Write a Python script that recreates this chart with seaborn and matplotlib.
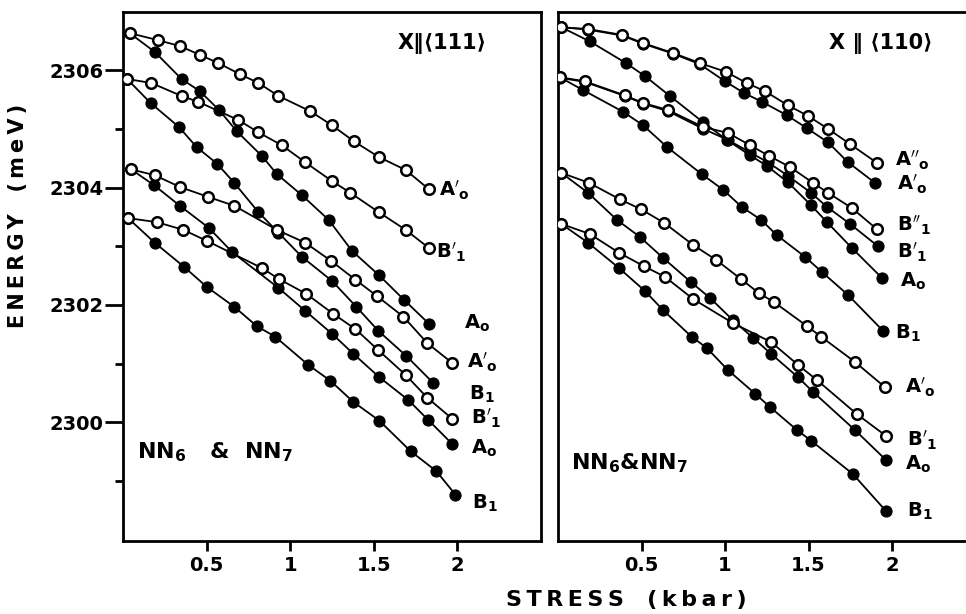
import pandas as pd
import matplotlib
matplotlib.use("Agg")
import matplotlib.pyplot as plt
import seaborn as sns

# Exciton line energies vs uniaxial stress.
# stress in kbar, energy in meV

# ---- X || <111> panel ----
l_ap_up_x = [0.04, 0.21, 0.34, 0.46, 0.57, 0.70, 0.81, 0.93, 1.12, 1.25, 1.38, 1.53, 1.69, 1.83]
l_ap_up_e = [2306.63, 2306.51, 2306.41, 2306.26, 2306.12, 2305.93, 2305.78, 2305.56, 2305.30, 2305.06, 2304.79, 2304.52, 2304.30, 2303.97]
l_ao_up_x = [0.04, 0.19, 0.35, 0.46, 0.575, 0.68, 0.83, 0.92, 1.07, 1.23, 1.37, 1.53, 1.68, 1.83]
l_ao_up_e = [2306.63, 2306.31, 2305.85, 2305.64, 2305.32, 2304.96, 2304.54, 2304.23, 2303.87, 2303.45, 2302.92, 2302.51, 2302.09, 2301.68]
l_bp_up_x = [0.024, 0.17, 0.35, 0.45, 0.69, 0.81, 0.95, 1.09, 1.25, 1.36, 1.53, 1.69, 1.83]
l_bp_up_e = [2305.85, 2305.78, 2305.56, 2305.46, 2305.15, 2304.94, 2304.72, 2304.43, 2304.11, 2303.91, 2303.58, 2303.28, 2302.97]
l_b1_up_x = [0.024, 0.165, 0.335, 0.44, 0.565, 0.665, 0.81, 0.93, 1.07, 1.25, 1.395, 1.527, 1.695, 1.856]
l_b1_up_e = [2305.85, 2305.44, 2305.03, 2304.69, 2304.40, 2304.08, 2303.58, 2303.23, 2302.82, 2302.41, 2301.97, 2301.56, 2301.13, 2300.67]
l_ap_lo_x = [0.048, 0.19, 0.34, 0.51, 0.665, 0.92, 1.09, 1.245, 1.39, 1.52, 1.677, 1.82, 1.97]
l_ap_lo_e = [2304.31, 2304.21, 2304.01, 2303.84, 2303.69, 2303.28, 2303.06, 2302.75, 2302.43, 2302.15, 2301.80, 2301.35, 2301.01]
l_ao_lo_x = [0.048, 0.186, 0.34, 0.515, 0.653, 0.93, 1.09, 1.25, 1.377, 1.533, 1.707, 1.826, 1.97]
l_ao_lo_e = [2304.31, 2304.04, 2303.69, 2303.31, 2302.90, 2302.29, 2301.90, 2301.51, 2301.17, 2300.77, 2300.38, 2300.04, 2299.63]
l_bp_lo_x = [0.03, 0.204, 0.36, 0.503, 0.83, 0.934, 1.096, 1.257, 1.39, 1.527, 1.69, 1.82, 1.97]
l_bp_lo_e = [2303.48, 2303.41, 2303.28, 2303.09, 2302.63, 2302.44, 2302.19, 2301.85, 2301.59, 2301.23, 2300.81, 2300.42, 2300.06]
l_b1_lo_x = [0.03, 0.19, 0.365, 0.50, 0.665, 0.80, 0.91, 1.108, 1.24, 1.377, 1.533, 1.72, 1.874, 1.988]
l_b1_lo_e = [2303.48, 2303.06, 2302.65, 2302.31, 2301.97, 2301.64, 2301.46, 2300.98, 2300.71, 2300.35, 2300.03, 2299.51, 2299.17, 2298.77]

# ---- X || <110> panel ----
r_app_x = [0.02, 0.18, 0.383, 0.51, 0.69, 0.85, 1.006, 1.13, 1.24, 1.377, 1.497, 1.617, 1.749, 1.91]
r_app_e = [2306.73, 2306.70, 2306.60, 2306.46, 2306.29, 2306.12, 2305.97, 2305.78, 2305.64, 2305.40, 2305.22, 2305.00, 2304.74, 2304.42]
r_ap_x = [0.02, 0.18, 0.383, 0.51, 0.69, 0.85, 1.0, 1.114, 1.222, 1.371, 1.491, 1.617, 1.737, 1.898]
r_ap_e = [2306.73, 2306.69, 2306.59, 2306.45, 2306.28, 2306.10, 2305.81, 2305.61, 2305.46, 2305.23, 2305.01, 2304.77, 2304.43, 2304.08]
r_ao_x = [0.02, 0.19, 0.407, 0.52, 0.67, 0.87, 1.012, 1.15, 1.25, 1.377, 1.515, 1.611, 1.76, 1.94]
r_ao_e = [2306.73, 2306.49, 2306.12, 2305.90, 2305.56, 2305.11, 2304.81, 2304.55, 2304.37, 2304.09, 2303.70, 2303.41, 2302.97, 2302.46]
r_bpp_x = [0.01, 0.16, 0.40, 0.51, 0.66, 0.87, 1.018, 1.15, 1.263, 1.389, 1.527, 1.617, 1.76, 1.91]
r_bpp_e = [2305.88, 2305.81, 2305.57, 2305.44, 2305.32, 2305.03, 2304.93, 2304.72, 2304.54, 2304.35, 2304.08, 2303.91, 2303.65, 2303.29]
r_bp_x = [0.01, 0.16, 0.40, 0.51, 0.66, 0.87, 1.018, 1.15, 1.257, 1.377, 1.515, 1.611, 1.749, 1.916]
r_bp_e = [2305.87, 2305.80, 2305.56, 2305.43, 2305.30, 2305.00, 2304.81, 2304.60, 2304.43, 2304.20, 2303.91, 2303.67, 2303.38, 2303.00]
r_b1_x = [0.01, 0.15, 0.39, 0.51, 0.653, 0.86, 0.99, 1.10, 1.216, 1.31, 1.479, 1.581, 1.737, 1.946]
r_b1_e = [2305.88, 2305.66, 2305.29, 2305.06, 2304.69, 2304.23, 2303.96, 2303.67, 2303.45, 2303.19, 2302.82, 2302.56, 2302.17, 2301.56]
r_ap_lo_x = [0.02, 0.186, 0.37, 0.497, 0.635, 0.81, 0.946, 1.096, 1.204, 1.293, 1.491, 1.575, 1.778, 1.958]
r_ap_lo_e = [2304.25, 2304.08, 2303.80, 2303.63, 2303.40, 2303.02, 2302.77, 2302.44, 2302.20, 2302.05, 2301.64, 2301.46, 2301.03, 2300.60]
r_ao_lo_x = [0.02, 0.18, 0.353, 0.49, 0.63, 0.796, 0.91, 1.048, 1.168, 1.275, 1.437, 1.527, 1.778, 1.964]
r_ao_lo_e = [2304.25, 2303.91, 2303.45, 2303.16, 2302.80, 2302.39, 2302.12, 2301.74, 2301.44, 2301.17, 2300.77, 2300.52, 2299.87, 2299.36]
r_bp_lo_x = [0.02, 0.19, 0.365, 0.515, 0.64, 0.81, 1.048, 1.275, 1.437, 1.551, 1.79, 1.964]
r_bp_lo_e = [2303.38, 2303.21, 2302.89, 2302.66, 2302.48, 2302.10, 2301.69, 2301.37, 2300.98, 2300.72, 2300.14, 2299.77]
r_b1_lo_x = [0.02, 0.18, 0.365, 0.52, 0.63, 0.80, 0.89, 1.018, 1.18, 1.27, 1.431, 1.515, 1.766, 1.964]
r_b1_lo_e = [2303.38, 2303.06, 2302.63, 2302.24, 2301.91, 2301.46, 2301.27, 2300.89, 2300.49, 2300.26, 2299.87, 2299.69, 2299.12, 2298.49]

# line names written at the end of each curve
l_label_text = [r"$A'_o$", r"$B'_1$", r"$A_o$", r"$A'_o$", r"$B_1$", r"$B'_1$", r"$A_o$", r"$B_1$"]
l_label_x = [1.89, 1.87, 2.04, 2.06, 2.07, 2.08, 2.08, 2.09]
l_label_y = [2303.96, 2302.90, 2301.69, 2301.03, 2300.48, 2300.07, 2299.56, 2298.62]
r_label_text = [r"$A''_o$", r"$A'_o$", r"$B''_1$", r"$B'_1$", r"$A_o$", r"$B_1$", r"$A'_o$", r"$B'_1$", r"$A_o$", r"$B_1$"]
r_label_x = [2.02, 2.03, 2.03, 2.03, 2.05, 2.02, 2.08, 2.09, 2.08, 2.09]
r_label_y = [2304.46, 2304.06, 2303.36, 2302.90, 2302.41, 2301.51, 2300.60, 2299.69, 2299.29, 2298.48]

series = [
    ("left", "ap_up", False, l_ap_up_x, l_ap_up_e),
    ("left", "ao_up", True, l_ao_up_x, l_ao_up_e),
    ("left", "bp_up", False, l_bp_up_x, l_bp_up_e),
    ("left", "b1_up", True, l_b1_up_x, l_b1_up_e),
    ("left", "ap_lo", False, l_ap_lo_x, l_ap_lo_e),
    ("left", "ao_lo", True, l_ao_lo_x, l_ao_lo_e),
    ("left", "bp_lo", False, l_bp_lo_x, l_bp_lo_e),
    ("left", "b1_lo", True, l_b1_lo_x, l_b1_lo_e),
    ("right", "app", False, r_app_x, r_app_e),
    ("right", "ap", True, r_ap_x, r_ap_e),
    ("right", "ao", True, r_ao_x, r_ao_e),
    ("right", "bpp", False, r_bpp_x, r_bpp_e),
    ("right", "bp", True, r_bp_x, r_bp_e),
    ("right", "b1", True, r_b1_x, r_b1_e),
    ("right", "ap_lo", False, r_ap_lo_x, r_ap_lo_e),
    ("right", "ao_lo", True, r_ao_lo_x, r_ao_lo_e),
    ("right", "bp_lo", False, r_bp_lo_x, r_bp_lo_e),
    ("right", "b1_lo", True, r_b1_lo_x, r_b1_lo_e),
]
rows = []
for panel, name, filled, xs, es in series:
    for x, e in zip(xs, es):
        rows.append({"panel": panel, "series": name, "filled": filled, "stress": x, "energy": e})
df = pd.DataFrame(rows)

sns.set_theme(style="ticks")
plt.rcParams["font.family"] = ["DejaVu Sans"]
plt.rcParams["font.weight"] = "bold"
plt.rcParams["mathtext.fontset"] = "dejavusans"
plt.rcParams["mathtext.default"] = "bf"
plt.rcParams["axes.linewidth"] = 2.0
for key in ["text.color", "axes.edgecolor", "axes.labelcolor", "xtick.color", "ytick.color"]:
    plt.rcParams[key] = "black"


def spaced(s, sep="\u2009"):
    return sep.join(s)


fig = plt.figure(figsize=(9.66, 6.14), dpi=100)
ax_l = fig.add_axes([123 / 966, 73 / 614, 418 / 966, 529 / 614])
ax_r = fig.add_axes([558 / 966, 73 / 614, 417.5 / 966, 529 / 614])

for ax, panel in [(ax_l, "left"), (ax_r, "right")]:
    sub = df[df["panel"] == panel]
    sns.lineplot(data=sub, x="stress", y="energy", units="series", estimator=None,
                 sort=False, color="black", lw=1.3, ax=ax, zorder=2)
    sns.scatterplot(data=sub[sub["filled"]], x="stress", y="energy", color="black",
                    edgecolor="black", s=64, linewidth=0.8, ax=ax, zorder=3)
    sns.scatterplot(data=sub[~sub["filled"]], x="stress", y="energy", color="white",
                    edgecolor="black", s=58, linewidth=1.8, ax=ax, zorder=4)
    ax.set_xlim(0, 2.5)
    ax.set_ylim(2297.98, 2306.99)
    ax.set_xlabel("")
    ax.set_ylabel("")
    ax.set_xticks([0.5, 1, 1.5, 2])
    ax.set_xticklabels(["0.5", "1", "1.5", "2"])
    ax.tick_params(axis="x", direction="out", length=7, width=2, labelsize=14, pad=4)

ax_l.set_yticks([2300, 2302, 2304, 2306])
ax_l.set_yticklabels(["2300", "2302", "2304", "2306"])
ax_l.set_yticks([2299, 2301, 2303, 2305], minor=True)
ax_l.tick_params(axis="y", which="major", direction="out", length=13, width=2, labelsize=14, pad=1)
ax_l.tick_params(axis="y", which="minor", direction="out", length=6, width=2)

ax_r.set_yticks([])
ax_r.spines["right"].set_visible(False)

for t, x, y in zip(l_label_text, l_label_x, l_label_y):
    ax_l.text(x, y, t, fontsize=14, ha="left", va="center")
for t, x, y in zip(r_label_text, r_label_x, r_label_y):
    ax_r.text(x, y, t, fontsize=14, ha="left", va="center")

ax_l.text(1.64, 2306.46, "X\u2016\u27e8111\u27e9", fontsize=15, ha="left", va="center")
ax_r.text(1.62, 2306.46, "X \u2016 \u27e8110\u27e9", fontsize=15, ha="left", va="center")
ax_l.text(0.085, 2299.5, r"NN$_6$   &  NN$_7$", fontsize=16, ha="left", va="center")
ax_r.text(0.08, 2299.31, r"NN$_6$&NN$_7$", fontsize=16, ha="left", va="center")

fig.text(18 / 966, 1 - 216 / 614, spaced("ENERGY") + "   " + spaced("(meV)"),
         rotation=90, ha="center", va="center", fontsize=15)
fig.text(626 / 966, 1 - 600 / 614, spaced("STRESS") + "   " + spaced("(kbar)"),
         ha="center", va="center", fontsize=16)

fig.savefig("out.png", dpi=100)
